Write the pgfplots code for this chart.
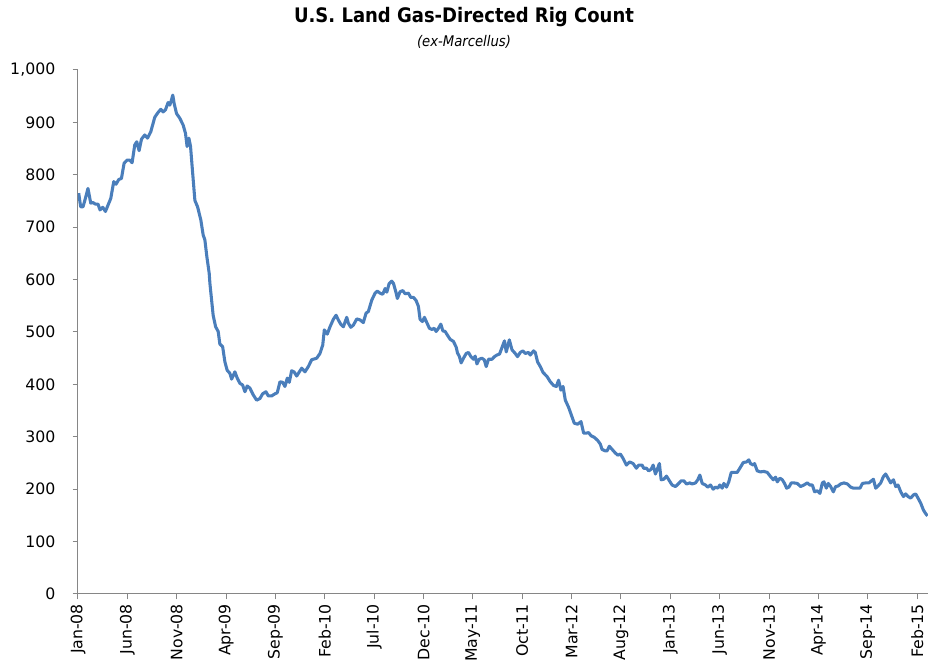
\documentclass[border=0pt]{standalone}
\usepackage{pgfplots}
\pgfplotsset{compat=1.18}
\usepackage{fontspec}
\setmainfont{DejaVu Sans}
\newfontfamily\titlefont{DejaVu Sans Condensed}
\definecolor{rigblue}{HTML}{4A7EBB}
\definecolor{axisgray}{HTML}{868686}

\begin{document}
\begin{tikzpicture}
\begin{axis}[
    name=ax,
    at={(0,0)}, anchor=south west,
    scale only axis,
    width=637.5pt, height=393pt,
    xmin=0, xmax=86.1,
    ymin=0, ymax=1000,
    axis x line*=bottom,
    axis y line*=left,
    axis line style={axisgray, line width=0.75pt},
    every tick/.style={axisgray, line width=0.75pt},
    tick align=outside,
    major tick length=4pt,
    xtick={0,5,...,85},
    xticklabels={Jan-08,Jun-08,Nov-08,Apr-09,Sep-09,Feb-10,Jul-10,Dec-10,May-11,Oct-11,Mar-12,Aug-12,Jan-13,Jun-13,Nov-13,Apr-14,Sep-14,Feb-15},
    ytick={0,100,...,1000},
    x tick label style={rotate=90, anchor=east, font=\fontsize{11.8}{14}\selectfont},
    y tick label style={font=\fontsize{11.8}{14}\selectfont, xshift=-9.5pt},
    /pgf/number format/.cd, 1000 sep={,}, assume math mode=true,
]
\addplot[rigblue, line width=2.3pt, line join=round] coordinates {
(0.07,765)(0.27,739)(0.51,739)(0.75,755)(1.01,774)(1.29,746)(1.52,747)(1.76,744)
(2.03,744)(2.23,733)(2.51,738)(2.78,730)(3.04,742)(3.32,755)(3.62,787)(3.85,782)
(4.13,791)(4.40,793)(4.67,822)(4.97,828)(5.24,828)(5.48,823)(5.75,857)(5.95,863)
(6.19,846)(6.43,868)(6.76,876)(7.04,870)(7.37,882)(7.78,910)(8.11,919)(8.39,925)
(8.62,920)(8.86,924)(9.13,938)(9.30,933)(9.47,943)(9.60,952)(9.74,936)(9.98,917)
(10.31,908)(10.65,895)(10.89,879)(11.05,854)(11.23,870)(11.40,854)(11.56,816)(11.84,751)
(12.11,739)(12.44,714)(12.68,685)(12.85,676)(13.05,644)(13.29,612)(13.36,593)(13.69,532)
(13.94,510)(14.20,501)(14.37,477)(14.65,472)(14.88,443)(15.11,427)(15.39,421)(15.56,410)
(15.89,424)(16.13,412)(16.40,402)(16.67,399)(16.91,386)(17.14,397)(17.41,393)(17.75,380)
(18.09,370)(18.43,373)(18.70,382)(19.04,386)(19.27,378)(19.61,378)(19.95,382)(20.18,384)
(20.46,405)(20.73,404)(20.96,396)(21.20,412)(21.40,404)(21.64,426)(21.88,424)(22.15,416)
(22.66,431)(22.99,424)(23.33,434)(23.67,447)(24.18,450)(24.51,459)(24.79,475)(24.95,504)
(25.25,496)(25.53,510)(25.86,524)(26.14,532)(26.37,523)(26.61,515)(26.88,510)(27.22,528)
(27.38,517)(27.63,509)(27.89,513)(28.24,525)(28.57,523)(28.90,518)(29.18,536)(29.41,539)
(29.76,561)(30.09,574)(30.32,578)(30.60,574)(30.87,572)(31.11,583)(31.28,576)(31.51,592)
(31.78,597)(31.95,593)(32.19,577)(32.35,564)(32.63,577)(32.90,579)(33.13,573)(33.47,574)
(33.71,566)(33.98,566)(34.25,560)(34.48,549)(34.65,524)(34.89,520)(35.09,528)(35.33,518)
(35.60,507)(35.84,505)(36.08,507)(36.28,501)(36.51,507)(36.75,515)(36.96,502)(37.19,501)
(37.42,494)(37.70,486)(38.03,482)(38.31,471)(38.44,460)(38.64,453)(38.81,441)(39.05,450)
(39.32,459)(39.55,461)(39.80,453)(40.06,448)(40.23,454)(40.41,439)(40.64,448)(40.91,450)
(41.15,447)(41.35,434)(41.58,448)(41.93,448)(42.19,453)(42.43,456)(42.70,458)(43.04,475)
(43.20,483)(43.38,462)(43.69,485)(43.96,466)(44.29,459)(44.52,453)(44.80,461)(45.07,464)
(45.31,459)(45.64,461)(45.81,456)(46.15,464)(46.32,461)(46.55,443)(46.83,434)(47.10,423)
(47.51,415)(47.84,405)(48.17,398)(48.45,396)(48.68,408)(48.92,389)(49.13,396)(49.36,370)
(49.70,356)(50.04,338)(50.27,326)(50.61,324)(50.95,329)(51.22,307)(51.49,307)(51.72,308)
(51.97,302)(52.30,299)(52.64,293)(52.91,286)(53.08,276)(53.42,273)(53.59,273)(53.82,282)
(54.10,276)(54.43,269)(54.67,265)(54.94,267)(55.21,259)(55.55,246)(55.88,252)(56.23,249)
(56.56,240)(56.80,246)(57.14,246)(57.30,240)(57.58,240)(57.81,235)(58.05,238)(58.26,246)
(58.49,229)(58.72,240)(58.89,249)(59.07,218)(59.33,219)(59.61,225)(59.84,218)(60.18,208)
(60.52,205)(60.85,211)(61.10,216)(61.36,216)(61.64,210)(61.97,212)(62.21,210)(62.55,212)
(62.78,218)(62.99,227)(63.23,211)(63.56,208)(63.79,204)(64.07,208)(64.34,200)(64.57,204)
(64.81,202)(65.01,208)(65.25,202)(65.42,211)(65.69,204)(65.92,214)(66.17,232)(66.43,232)
(66.77,232)(67.04,240)(67.39,251)(67.72,252)(67.95,256)(68.12,249)(68.40,246)(68.53,249)
(68.80,235)(69.14,233)(69.47,234)(69.82,232)(70.15,224)(70.43,218)(70.66,223)(70.83,214)
(71.10,221)(71.34,218)(71.57,211)(71.78,202)(72.01,204)(72.25,212)(72.52,212)(72.86,211)
(73.19,205)(73.53,208)(73.87,212)(74.13,208)(74.38,208)(74.61,195)(74.89,197)(75.15,192)
(75.40,212)(75.56,214)(75.80,202)(76.00,211)(76.24,205)(76.51,195)(76.74,205)(76.98,206)
(77.25,210)(77.59,212)(77.93,210)(78.27,204)(78.54,202)(78.95,202)(79.21,202)(79.46,211)
(79.79,212)(80.12,212)(80.37,216)(80.57,219)(80.80,202)(81.03,206)(81.31,212)(81.58,224)
(81.81,229)(82.05,221)(82.32,212)(82.60,218)(82.83,205)(83.06,208)(83.34,195)(83.61,186)
(83.84,191)(84.08,186)(84.35,183)(84.62,189)(84.85,191)(85.09,183)(85.37,173)(85.64,160)
(85.88,153)(86.05,149)
};
\end{axis}
\node[font=\titlefont\bfseries\fontsize{15}{18}\selectfont] at (289.5pt,432.5pt) {U.S. Land Gas-Directed Rig Count};
\node[font=\titlefont\itshape\fontsize{11}{13}\selectfont] at (289.5pt,414pt) {(ex-Marcellus)};
\pgfresetboundingbox
\path (-58.5pt,-54.75pt) rectangle (637.5pt,445.5pt);
\end{tikzpicture}
\end{document}
